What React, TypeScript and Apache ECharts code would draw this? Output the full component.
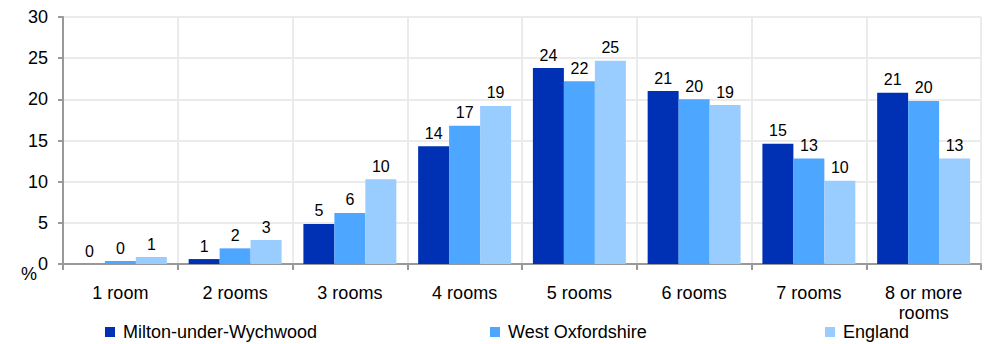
import React, { useEffect, useRef } from "react";
import * as echarts from "echarts";

const categories = ["1 room", "2 rooms", "3 rooms", "4 rooms", "5 rooms", "6 rooms", "7 rooms", "8 or more\nrooms"];
const milton = [0.0, 0.6, 4.86, 14.3, 23.8, 21.0, 14.6, 20.8];
const westOx = [0.36, 1.9, 6.2, 16.8, 22.2, 20.0, 12.8, 19.8];
const england = [0.85, 2.9, 10.3, 19.2, 24.7, 19.3, 10.1, 12.8];
const seriesNames = ["Milton-under-Wychwood", "West Oxfordshire", "England"];
const colors = ["#0030B3", "#4DA6FF", "#99CCFF"];
const yTicks = { min: 0, max: 30, interval: 5 };

const FONT = "'Liberation Sans', Arial, sans-serif";

export default function App() {
  const ref = useRef<HTMLDivElement>(null);
  useEffect(() => {
    if (!ref.current) return;
    const chart = echarts.init(ref.current, undefined, { renderer: "svg" });
    const datasets = [milton, westOx, england];
    const legendLefts = [105, 490, 825];
    chart.setOption({
      animation: false,
      textStyle: { fontFamily: FONT },
      grid: { left: 63, right: 8, top: 17, bottom: 80 },
      legend: seriesNames.map((n, i) => ({
        data: [n],
        left: legendLefts[i],
        top: 323,
        padding: 0,
        itemWidth: 10,
        itemHeight: 10,
        icon: "rect",
        itemGap: 0,
        textStyle: { fontSize: 18, color: "#000", fontFamily: FONT, padding: [0, 0, 0, 3] },
      })),
      xAxis: {
        type: "category",
        data: categories,
        axisLine: { lineStyle: { color: "#999", width: 2 } },
        axisTick: { show: true, length: 6, lineStyle: { color: "#999", width: 2 } },
        axisLabel: { fontSize: 18, color: "#000", margin: 19, lineHeight: 20, fontFamily: FONT },
        splitLine: { show: true, lineStyle: { color: "#ebebeb", width: 2 } },
      },
      yAxis: {
        type: "value",
        min: yTicks.min,
        max: yTicks.max,
        interval: yTicks.interval,
        axisLine: { show: true, lineStyle: { color: "#999", width: 2 } },
        axisTick: { show: true, length: 5, lineStyle: { color: "#999", width: 2 } },
        axisLabel: { fontSize: 18, color: "#000", margin: 15, fontFamily: FONT },
        splitLine: { show: true, lineStyle: { color: "#ebebeb", width: 2 } },
      },
      graphic: [
        { type: "text", left: 21, top: 265, style: { text: "%", fontSize: 18, fill: "#000", fontFamily: FONT } },
      ],
      series: datasets.map((d, i) => ({
        name: seriesNames[i],
        type: "bar",
        data: d,
        barGap: "0%",
        barCategoryGap: "19%",
        itemStyle: { color: colors[i] },
        label: {
          show: true,
          position: "top",
          distance: 5,
          fontSize: 16,
          color: "#000",
          fontFamily: FONT,
          formatter: (p: any) => String(Math.round(p.value)),
        },
      })),
    });
    return () => chart.dispose();
  }, []);
  return <div ref={ref} style={{ width: 989, height: 344, position: "absolute", left: 0, top: 0 }} />;
}
